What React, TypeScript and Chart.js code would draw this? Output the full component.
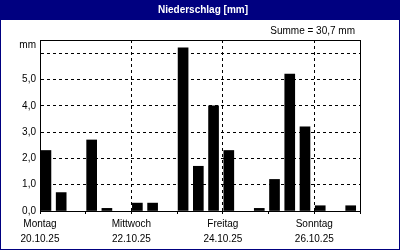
import React, { useEffect, useRef } from 'react';
import { Chart, registerables } from 'chart.js';

Chart.register(...registerables);

const chartTitle = 'Niederschlag [mm]';
const totalLabel = 'Summe = 30,7 mm';
const unitLabel = 'mm';
const dayNames = ['Montag', 'Dienstag', 'Mittwoch', 'Donnerstag', 'Freitag', 'Samstag', 'Sonntag'];
const dayDates = ['20.10.25', '21.10.25', '22.10.25', '23.10.25', '24.10.25', '25.10.25', '26.10.25'];
const labeledDays = [0, 2, 4, 6];
// precipitation per 8-hour slot, three slots per day (Mon..Sun)
const precipitation = [
  2.3, 0.7, 0,
  2.7, 0.1, 0,
  0.3, 0.3, 0,
  6.2, 1.7, 4.0,
  2.3, 0, 0.1,
  1.2, 5.2, 3.2,
  0.2, 0, 0.2,
];
const yTickValues = [0, 1, 2, 3, 4, 5, 6];
const SLOTS_PER_DAY = 3;
const Y_MAX = 6.5;
const UNIT_POS = 6.3;
const BAR_OFFSET = 0.39;

const NAVY = '#000080';
const FONT = '"Liberation Sans", Arial, sans-serif';

const framePlugin = {
  id: 'frame',
  beforeDraw(chart: any) {
    const { ctx, width } = chart;
    ctx.save();
    ctx.fillStyle = '#ffffff';
    ctx.fillRect(0, 0, width, chart.height);
    ctx.fillStyle = NAVY;
    ctx.fillRect(0, 0, width, 20);
    ctx.restore();
  },
  afterDraw(chart: any) {
    const { ctx, chartArea: a, width, height } = chart;
    ctx.save();
    ctx.strokeStyle = '#000';
    ctx.lineWidth = 1;
    ctx.strokeRect(Math.round(a.left) + 0.5, Math.round(a.top) + 0.5, Math.round(a.right - a.left), Math.round(a.bottom - a.top));
    ctx.strokeStyle = NAVY;
    ctx.strokeRect(0.5, 0.5, width - 1, height - 1);
    ctx.fillStyle = '#ffffff';
    ctx.font = 'bold 10px ' + FONT;
    ctx.textAlign = 'center';
    ctx.textBaseline = 'middle';
    ctx.fillText(chartTitle, width / 2 + 3, 10);
    ctx.fillStyle = '#000';
    ctx.font = '10px ' + FONT;
    ctx.textAlign = 'right';
    ctx.fillText(totalLabel, a.right - 5, 31);
    ctx.restore();
  },
};

export default function App() {
  const ref = useRef<HTMLCanvasElement | null>(null);

  useEffect(() => {
    if (!ref.current) return;
    const chart = new Chart(ref.current, {
      type: 'bar',
      data: {
        datasets: [
          {
            data: precipitation.map((v, i) => ({ x: i + BAR_OFFSET, y: v === 0 ? null : v })),
            backgroundColor: '#000',
            borderWidth: 0,
            barThickness: 10,
          },
        ],
      },
      options: {
        animation: false,
        responsive: false,
        layout: { padding: { top: 40, right: 40, left: 0, bottom: 0 } },
        plugins: { legend: { display: false }, tooltip: { enabled: false }, title: { display: false } },
        scales: {
          x: {
            type: 'linear',
            min: 0,
            max: precipitation.length,
            offset: false,
            afterBuildTicks: (s: any) => {
              s.ticks = [...dayNames.map((_, d) => ({ value: d * SLOTS_PER_DAY })), { value: precipitation.length }];
            },
            afterFit: (s: any) => {
              s.height = 39;
            },
            ticks: {
              autoSkip: false,
              maxRotation: 0,
              padding: 2,
              color: '#000',
              font: { family: FONT, size: 10, lineHeight: 1.55 },
              callback: (value: any) => {
                const d = value / SLOTS_PER_DAY;
                return labeledDays.includes(d) ? [dayNames[d], dayDates[d]] : '';
              },
            },
            grid: {
              offset: false,
              color: (c: any) =>
                c.tick && labeledDays.includes(c.tick.value / SLOTS_PER_DAY) && c.tick.value > 0 ? '#000' : 'rgba(0,0,0,0)',
              drawTicks: true,
              tickLength: 3,
              tickColor: '#000',
            },
            border: { display: true, color: '#000', width: 1, dash: [3, 3] },
          },
          y: {
            min: 0,
            max: Y_MAX,
            afterBuildTicks: (s: any) => {
              s.ticks = [...yTickValues.map((v) => ({ value: v })), { value: UNIT_POS }];
            },
            afterFit: (s: any) => {
              s.width = 40;
            },
            ticks: {
              padding: 4,
              color: '#000',
              font: { family: FONT, size: 10 },
              callback: (value: any) => {
                if (value === UNIT_POS) return unitLabel;
                if (value <= 5) return Number(value).toFixed(1).replace('.', ',');
                return '';
              },
            },
            grid: {
              color: (c: any) => (c.tick && c.tick.value >= 1 && c.tick.value <= 6 ? '#000' : 'rgba(0,0,0,0)'),
              drawTicks: false,
            },
            border: { display: true, color: '#000', width: 1, dash: [3, 3] },
          },
        },
      },
      plugins: [framePlugin],
    } as any);
    return () => chart.destroy();
  }, []);

  return (
    <div style={{ position: 'absolute', left: 0, top: 0, width: 400, height: 250 }}>
      <canvas ref={ref} width={400} height={250} />
    </div>
  );
}
